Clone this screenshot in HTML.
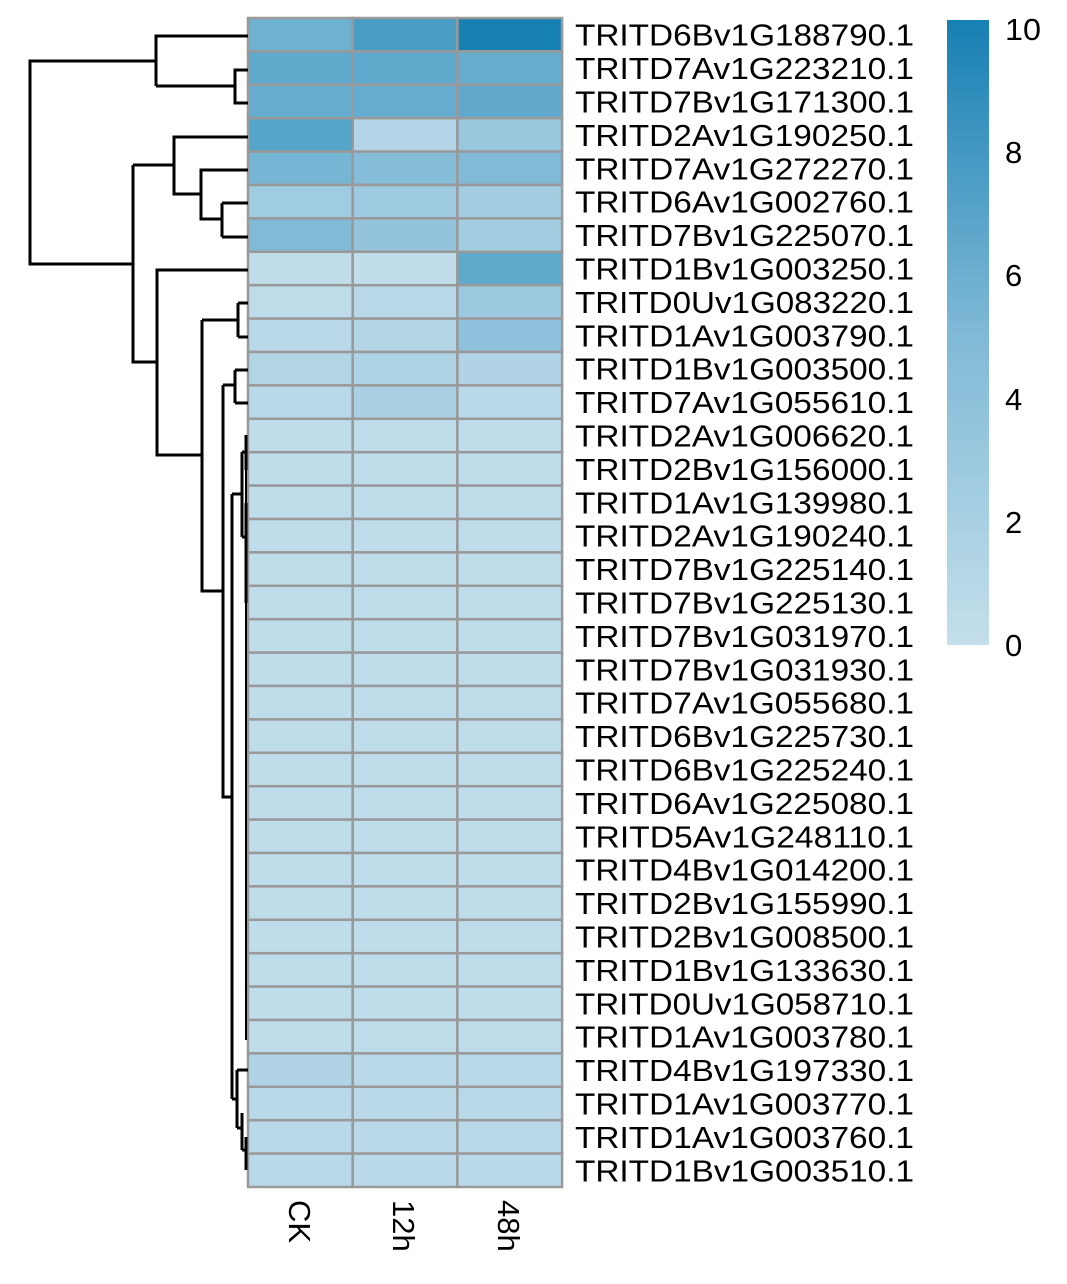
<!DOCTYPE html>
<html><head><meta charset="utf-8"><style>
html,body{margin:0;padding:0;background:#fff}
svg{display:block}
text{font-family:"Liberation Sans",Arial,sans-serif;fill:#000}
</style></head><body>
<svg width="1067" height="1284" viewBox="0 0 1067 1284" xmlns="http://www.w3.org/2000/svg">
<defs>
<linearGradient id="lg" x1="0" y1="1" x2="0" y2="0">
<stop offset="0" stop-color="#c4dfeb"/>
<stop offset="0.5" stop-color="#7fb9d6"/>
<stop offset="1" stop-color="#1780b3"/>
</linearGradient>
</defs>
<g stroke="#999" stroke-width="2.5">
<g id="cells"></g>
</g>
<script>
(function(){
var cols=[
["#6fb1d0","#479dc4","#1780b3"],
["#5fa9cc","#5fa9cc","#65acce"],
["#65accf","#65accf","#60a9cc"],
["#55a4c9","#b3d5e7","#98c7de"],
["#76b5d4","#85bdd8","#80bad7"],
["#a0cce1","#9dcae0","#a2cde1"],
["#80bad7","#93c4dc","#a2cde1"],
["#c0dde9","#c0dde9","#5fa9cc"],
["#bddbe9","#b8d8e8","#9cc9df"],
["#bad9e8","#b3d5e6","#8ec1db"],
["#b2d5e6","#aed3e4","#b0d4e5"],
["#b9d9e8","#aad1e3","#b9d9e8"]];
var labels=["TRITD6Bv1G188790.1","TRITD7Av1G223210.1","TRITD7Bv1G171300.1","TRITD2Av1G190250.1","TRITD7Av1G272270.1","TRITD6Av1G002760.1","TRITD7Bv1G225070.1","TRITD1Bv1G003250.1","TRITD0Uv1G083220.1","TRITD1Av1G003790.1","TRITD1Bv1G003500.1","TRITD7Av1G055610.1","TRITD2Av1G006620.1","TRITD2Bv1G156000.1","TRITD1Av1G139980.1","TRITD2Av1G190240.1","TRITD7Bv1G225140.1","TRITD7Bv1G225130.1","TRITD7Bv1G031970.1","TRITD7Bv1G031930.1","TRITD7Av1G055680.1","TRITD6Bv1G225730.1","TRITD6Bv1G225240.1","TRITD6Av1G225080.1","TRITD5Av1G248110.1","TRITD4Bv1G014200.1","TRITD2Bv1G155990.1","TRITD2Bv1G008500.1","TRITD1Bv1G133630.1","TRITD0Uv1G058710.1","TRITD1Av1G003780.1","TRITD4Bv1G197330.1","TRITD1Av1G003770.1","TRITD1Av1G003760.1","TRITD1Bv1G003510.1"];
var ns="http://www.w3.org/2000/svg",g=document.getElementById("cells"),svg=g.ownerSVGElement;
var y0=18,h=33.4,x0=248,w=104.7;
for(var i=0;i<35;i++){
 var c=cols[i]||["#bfdcea","#bfdcea","#bfdcea"];
 if(i>=31) c=[i==31?"#b0d4e5":"#b9d9e8","#b9d9e8","#b9d9e8"];
 for(var j=0;j<3;j++){var r=document.createElementNS(ns,"rect");
 r.setAttribute("x",x0+j*w);r.setAttribute("y",y0+i*h);r.setAttribute("width",w);r.setAttribute("height",h);r.setAttribute("fill",c[j]);g.appendChild(r);}
 var t=document.createElementNS(ns,"text");t.setAttribute("x",575);t.setAttribute("y",y0+h*(i+0.5)+11);t.setAttribute("font-size","30.5");t.setAttribute("textLength","339");t.setAttribute("lengthAdjust","spacingAndGlyphs");t.textContent=labels[i];svg.appendChild(t);
}
})();
</script>
<g stroke="#000" stroke-width="3" fill="none">
<path d="M248,36 H156 V86 M248,70 H235 V103 H248 M235,86 H156 M156,61 H30 V264 H133"/>
<path d="M133,165 V362 H157"/>
<path d="M248,137 H174 V194 H201 M174,165 H133 M248,170 H201 V219 H222 M222,203 H248 M222,237 H248 M222,203 V237"/>
<path d="M248,270 H157 V455 H202 M202,320 V591 H223 M202,320 H238 M238,303 V337 M238,303 H248 M238,337 H248"/>
<path d="M223,385 H235 M235,370 V403 M235,370 H248 M235,403 H248 M223,385 V797 H232 M232,494 V1099"/>
<path d="M232,494 H242 M242,452 V537 M242,452 H246 M246,435 V470 M242,537 H246 M246,503 V603"/>
<path d="M232,1099 H237 M237,1070 V1128 M237,1070 H248 M237,1128 H242 M242,1113 V1150 M242,1150 H246 M246,1137 V1170"/>
<path d="M246,470 V1040" stroke-width="2"/>
</g>
<rect x="947" y="20" width="42" height="625" fill="url(#lg)"/>
<g font-size="31">
<text x="1005" y="40" textLength="36" lengthAdjust="spacingAndGlyphs">10</text>
<text x="1005" y="163">8</text>
<text x="1005" y="286">6</text>
<text x="1005" y="410">4</text>
<text x="1005" y="533">2</text>
<text x="1005" y="656">0</text>
</g>
<g font-size="31">
<text transform="translate(289,1200) rotate(90)">CK</text>
<text transform="translate(393,1200) rotate(90)">12h</text>
<text transform="translate(498,1200) rotate(90)">48h</text>
</g>
</svg>
</body></html>
